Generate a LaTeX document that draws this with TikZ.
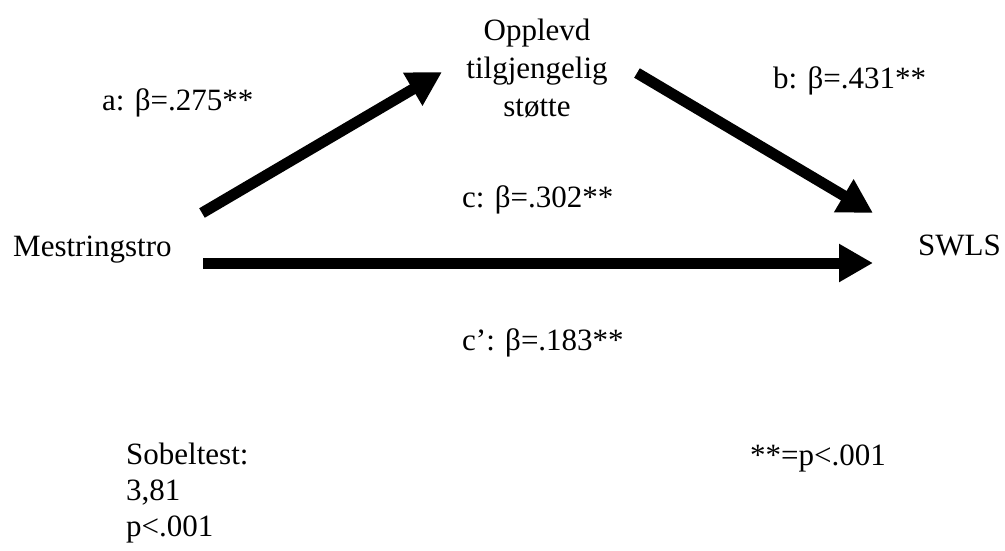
\documentclass[tikz,border=0pt]{standalone}
\usepackage{fontspec}
\setmainfont{Liberation Serif}
\usepackage{tikz}
\usetikzlibrary{arrows.meta, positioning}

\begin{document}
\begin{tikzpicture}[x=1pt, y=-1pt,
    tekst/.style={inner sep=0pt, anchor=base west, font=\fontsize{31}{38}\selectfont},
    pil/.style={line width=11pt, -{Triangle[length=34pt, width=36pt]}}]
        \useasboundingbox (0,0) rectangle (1005,550);
        % Variables
        \node[tekst] (mestring) at (13,256) {Mestringstro};
        \node[tekst] (swls) at (918,255) {SWLS};
        \node[tekst, anchor=center, align=center] (stotte) at (537,68)
          {Opplevd\\tilgjengelig\\støtte};
        % Bouts des flèches
        \coordinate (a0) at (202,213);
        \coordinate (a1) at (442,72);
        \coordinate (b0) at (637,73);
        \coordinate (b1) at (873,213);
        \coordinate (c0) at (203,263);
        \coordinate (c1) at (873,263);
        % Flèches
        \draw[pil] (a0) -- (a1);
        \draw[pil] (b0) -- (b1);
        \draw[pil] (c0) -- (c1);
        % Coefficients
        \node[tekst] (la) at (102,110) {a: β=.275**};
        \node[tekst] (lb) at (773,88) {b: β=.431**};
        \node[tekst] (lc) at (462,207) {c: β=.302**};
        \node[tekst] (lcc) at (462,350) {c’: β=.183**};
        % Tests
        \node[tekst, anchor=north west, align=left, font=\fontsize{31}{36}\selectfont]
          (sobel) at (126,443) {Sobeltest:\\3,81\\p<.001};
        \node[tekst] (sig) at (750,465) {**=p<.001};
      \end{tikzpicture}
\end{document}
